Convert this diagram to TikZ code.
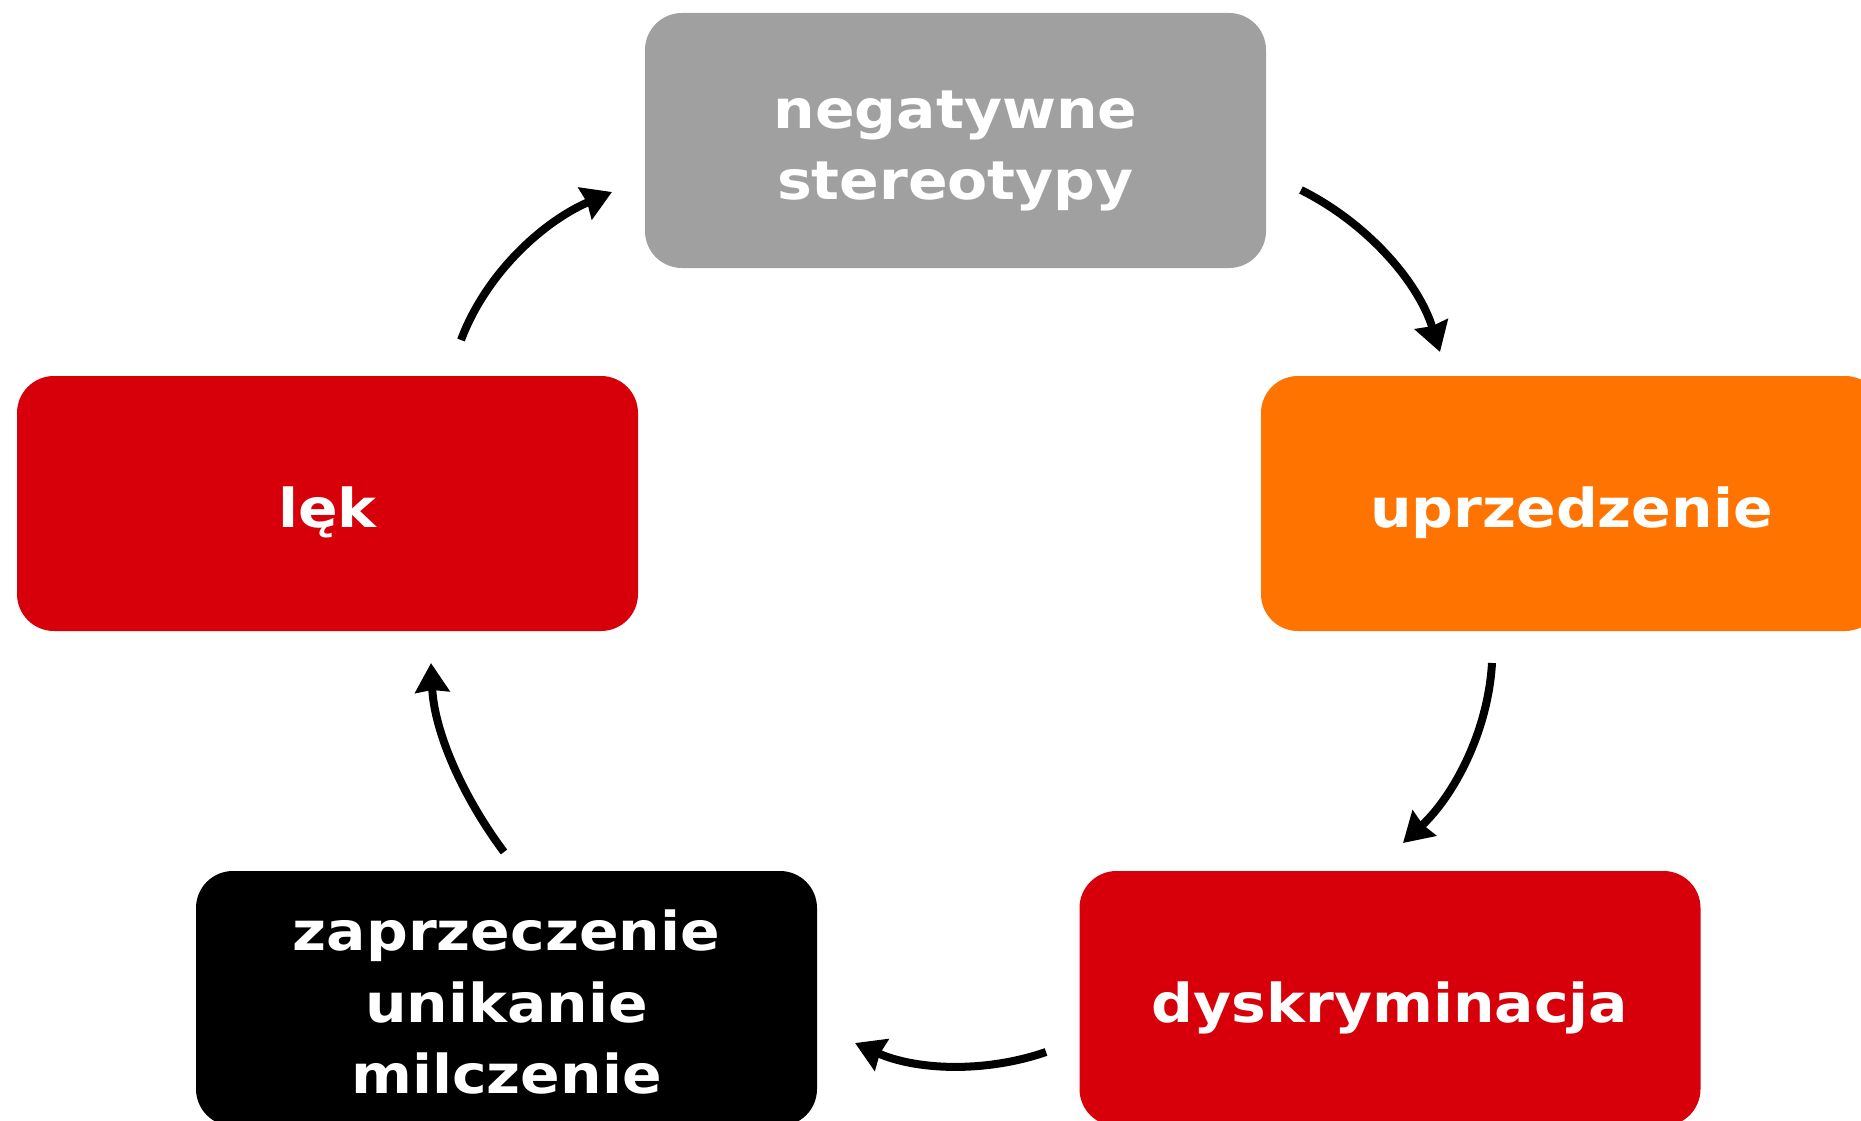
\documentclass[tikz,border=0pt]{standalone}
\usepackage{fontspec}
\usetikzlibrary{arrows.meta}
\newfontfamily\boxfont{DejaVu Sans}[FakeStretch=1.09]
\definecolor{cgray}{HTML}{A0A0A0}
\definecolor{corange}{HTML}{FF7300}
\definecolor{cred}{HTML}{D7000A}
\newcommand{\topstrut}{\rule{0pt}{61pt}}
\newcommand{\botstrut}{\rule[-14pt]{0pt}{14pt}}
\tikzset{
  cbox/.style={rectangle, rounded corners=37pt, minimum width=621pt, minimum height=255pt,
    inner sep=0pt, text=white, align=center,
    font=\boxfont\bfseries\fontsize{53.6pt}{71.5pt}\selectfont},
  carrow/.style={line width=8pt, -{Stealth[length=29pt,width=34pt,inset=2pt]}}
}
\begin{document}
\begin{tikzpicture}[x=1pt,y=-1pt]
\clip (0,0) rectangle (1861,1121);
\fill[white] (0,0) rectangle (1861,1121);
\node[cbox, fill=cgray] (neg) at (955.5,140.5) {\topstrut negatywne\\stereotypy\botstrut};
\node[cbox, fill=corange] (upr) at (1571.5,503.5) {\topstrut uprzedzenie\botstrut};
\node[cbox, fill=cred] (lek) at (327.5,503.5) {\topstrut lęk\botstrut};
\node[cbox, fill=cred] (dys) at (1390,998.5) {\topstrut dyskryminacja\botstrut};
\node[cbox, fill=black] (zap) at (506.5,998.5) {\topstrut zaprzeczenie\\unikanie\\milczenie\botstrut};
% arrow end points
\coordinate (a1s) at (1301,190); \coordinate (a1e) at (1440,352);
\coordinate (a2s) at (1492,663); \coordinate (a2e) at (1403,843);
\coordinate (a3s) at (1046,1052); \coordinate (a3e) at (855,1043);
\coordinate (a4s) at (504,852); \coordinate (a4e) at (431,663);
\coordinate (a5s) at (461,340); \coordinate (a5e) at (612,192);
\draw[carrow] (a1s) .. controls (1367,223) and (1418,281.5) .. (a1e);
\draw[carrow] (a2s) .. controls (1488,732) and (1453.5,796) .. (a2e);
\draw[carrow] (a3s) .. controls (983.6,1073.5) and (915.3,1069.8) .. (a3e);
\draw[carrow] (a4s) .. controls (462.7,796.7) and (434.3,731.9) .. (a4e);
\draw[carrow] (a5s) .. controls (486.7,271.7) and (544.9,220.6) .. (a5e);
\end{tikzpicture}
\end{document}
